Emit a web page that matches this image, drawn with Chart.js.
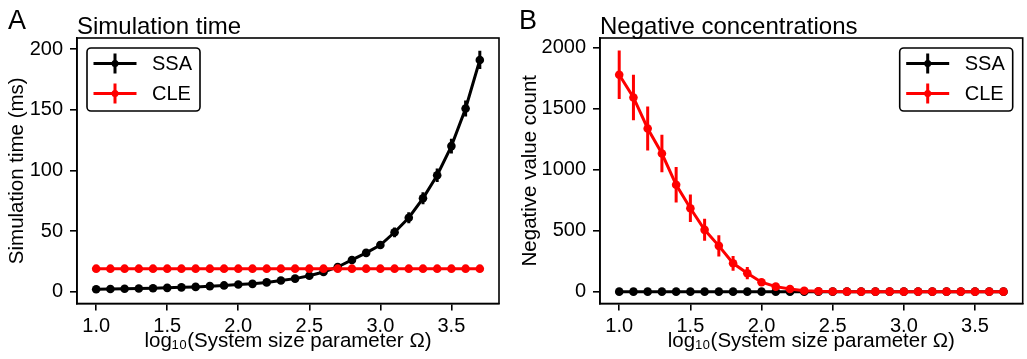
<!DOCTYPE html>
<html><head><meta charset="utf-8">
<script src="https://cdn.jsdelivr.net/npm/chart.js@4.4.1/dist/chart.umd.min.js"></script>
<style>
html,body{margin:0;padding:0;background:#fff;overflow:hidden;width:1027px;height:359px}
#ca{position:absolute;left:0;top:0}
#cb{position:absolute;left:510px;top:0}
</style></head><body>
<canvas id="ca" width="510" height="359"></canvas>
<canvas id="cb" width="517" height="359"></canvas>
<script>
// ---- data ----
const xValues = [1.0,1.1,1.2,1.3,1.4,1.5,1.6,1.7,1.8,1.9,2.0,2.1,2.2,2.3,2.4,2.5,2.6,2.7,2.8,2.9,3.0,3.1,3.2,3.3,3.4,3.5,3.6,3.7];
const ssaTime    = [2.0,2.2,2.4,2.6,2.9,3.2,3.6,4.0,4.6,5.2,5.9,6.5,7.7,9.2,10.8,13.2,16.3,20.4,26.2,32.0,38.5,49.0,61.0,77.0,96.0,120.0,151.0,191.0];
const ssaTimeErr = [0.2,0.2,0.2,0.2,0.3,0.3,0.3,0.3,0.4,0.4,0.5,0.5,0.6,0.7,0.8,1.0,1.2,1.6,2.0,2.6,3.2,4.0,4.5,5.0,5.5,6.0,6.5,7.5];
const cleTime    = [19.0,19.0,19.0,19.0,19.0,19.0,19.0,19.0,19.0,19.0,19.0,19.0,19.0,19.0,19.0,19.0,19.0,19.0,19.0,19.0,19.0,19.0,19.0,19.0,19.0,19.0,19.0,19.0];
const cleTimeErr = [0.4,0.4,0.4,0.4,0.4,0.4,0.4,0.4,0.4,0.4,0.4,0.4,0.4,0.4,0.4,0.4,0.4,0.4,0.4,0.4,0.4,0.4,0.4,0.4,0.4,0.4,0.4,0.4];
const ssaNeg     = [0,0,0,0,0,0,0,0,0,0,0,0,0,0,0,0,0,0,0,0,0,0,0,0,0,0,0,0];
const ssaNegErr  = [0,0,0,0,0,0,0,0,0,0,0,0,0,0,0,0,0,0,0,0,0,0,0,0,0,0,0,0];
const cleNeg     = [1776,1590,1336,1131,875,683,506,375,232,151,77,41,22,8,3,1,0,0,0,0,0,0,0,0,0,0,0,0];
const cleNegErr  = [198,186,180,153,145,112,90,87,60,50,25,15,10,5,2,1,0,0,0,0,0,0,0,0,0,0,0,0];
const xTicks    = [1.0,1.5,2.0,2.5,3.0,3.5];
const timeTicks = [0,50,100,150,200];
const negTicks  = [0,500,1000,1500,2000];
const seriesNames = ['SSA','CLE'];
const seriesColors = ['#000000','#ff0000'];

const FONT = "'Liberation Sans', Arial, sans-serif";

const errorBarPlugin = {
  id: 'errbars',
  afterDatasetDraw(chart, args) {
    const ds = chart.data.datasets[args.index];
    if (!ds.errors) return;
    const ys = chart.scales.y, ctx = chart.ctx;
    ctx.save();
    ctx.strokeStyle = ds.borderColor;
    ctx.lineWidth = 3;
    ctx.beginPath();
    ds.data.forEach((p, i) => {
      const e = ds.errors[i];
      if (!e) return;
      const x = args.meta.data[i].x;
      ctx.moveTo(x, ys.getPixelForValue(p.y - e));
      ctx.lineTo(x, ys.getPixelForValue(p.y + e));
    });
    ctx.stroke();
    ctx.restore();
  }
};

const decorPlugin = {
  id: 'decor',
  afterDraw(chart, args, opts) {
    const ctx = chart.ctx, a = chart.chartArea;
    ctx.save();
    // frame
    ctx.strokeStyle = '#000'; ctx.lineWidth = 1.6;
    ctx.strokeRect(a.left, a.top, a.right - a.left, a.bottom - a.top);
    // panel letter and title
    ctx.fillStyle = '#000';
    ctx.textBaseline = 'alphabetic'; ctx.textAlign = 'left';
    ctx.font = '27px ' + FONT;
    ctx.fillText(opts.letter, opts.letterX, 29);
    ctx.font = '24px ' + FONT;
    ctx.fillText(opts.title, a.left, 34);
    // legend
    const w = 113, h = 63;
    const bx = opts.legendRight ? a.right - 10 - w : a.left + 10;
    const by = a.top + 10;
    ctx.lineWidth = 1.6; ctx.strokeStyle = '#000'; ctx.fillStyle = '#fff';
    ctx.beginPath();
    if (ctx.roundRect) ctx.roundRect(bx, by, w, h, 4); else ctx.rect(bx, by, w, h);
    ctx.fill(); ctx.stroke();
    seriesNames.forEach((name, i) => {
      const y = by + 15.5 + i * 30;
      const x0 = bx + 6.5, x1 = bx + 49.5, xm = (x0 + x1) / 2;
      ctx.strokeStyle = seriesColors[i]; ctx.fillStyle = seriesColors[i];
      ctx.lineWidth = 3;
      ctx.beginPath(); ctx.moveTo(x0, y); ctx.lineTo(x1, y);
      ctx.moveTo(xm, y - 10); ctx.lineTo(xm, y + 10); ctx.stroke();
      ctx.beginPath(); ctx.arc(xm, y, 3.5, 0, Math.PI * 2); ctx.fill();
      ctx.fillStyle = '#000';
      ctx.font = '20px ' + FONT; ctx.textBaseline = 'middle';
      ctx.fillText(name, bx + 65, y + 1);
    });
    ctx.restore();
  }
};

function makeChart(id, ssa, ssaErr, cle, cleErr, yTicks, yMin, yMax, yTitle, yWidth, yTitlePad, padRight, decor) {
  const toPts = arr => arr.map((v, i) => ({x: xValues[i], y: v}));
  const mk = (label, data, errs, color, order) => ({
    label, data: toPts(data), errors: errs, order,
    borderColor: color, backgroundColor: color,
    borderWidth: 3, pointRadius: 4.3, pointHoverRadius: 4.3,
    pointBorderWidth: 0, pointBackgroundColor: color, tension: 0
  });
  return new Chart(document.getElementById(id), {
    type: 'line',
    data: { datasets: [
      mk(seriesNames[0], ssa, ssaErr, seriesColors[0], 1),
      mk(seriesNames[1], cle, cleErr, seriesColors[1], 0)
    ]},
    options: {
      responsive: false, animation: false, devicePixelRatio: 1,
      layout: { padding: { left: 0, top: 38, right: padRight, bottom: 0 } },
      plugins: { legend: { display: false }, tooltip: { enabled: false }, decor },
      scales: {
        x: {
          type: 'linear', min: 0.865, max: 3.835,
          afterBuildTicks: s => { s.ticks = xTicks.map(v => ({value: v})); },
          afterFit: s => { s.height = 55.5; },
          ticks: { callback: v => Number(v).toFixed(1), color: '#000', padding: 4,
                   font: { family: FONT, size: 20 }, maxRotation: 0, autoSkip: false },
          grid: { drawOnChartArea: false, drawTicks: true, tickLength: 7, color: '#000', lineWidth: 1.6 },
          border: { display: true, color: '#000', width: 1.6 },
          title: { display: true, text: 'log₁₀(System size parameter Ω)', color: '#000',
                   font: { family: FONT, size: 20.5 }, padding: { top: 0, bottom: 5 } }
        },
        y: {
          type: 'linear', min: yMin, max: yMax,
          afterBuildTicks: s => { s.ticks = yTicks.map(v => ({value: v})); },
          afterFit: s => { s.width = yWidth; },
          ticks: { callback: v => String(v), color: '#000', padding: 7,
                   font: { family: FONT, size: 20 }, autoSkip: false },
          grid: { drawOnChartArea: false, drawTicks: true, tickLength: 7, color: '#000', lineWidth: 1.6 },
          border: { display: true, color: '#000', width: 1.6 },
          title: { display: true, text: yTitle, color: '#000',
                   font: { family: FONT, size: 20.5 }, padding: { top: yTitlePad, bottom: 0 } }
        }
      }
    },
    plugins: [errorBarPlugin, decorPlugin]
  });
}

makeChart('ca', ssaTime, ssaTimeErr, cleTime, cleTimeErr, timeTicks, -9.7, 209.1,
  'Simulation time (ms)', 77, 5, 11,
  { letter: 'A', letterX: 8, title: 'Simulation time', legendRight: false });
makeChart('cb', ssaNeg, ssaNegErr, cleNeg, cleNegErr, negTicks, -97, 2077,
  'Negative value count', 90, 8, 4,
  { letter: 'B', letterX: 9, title: 'Negative concentrations', legendRight: true });
</script>
</body></html>
